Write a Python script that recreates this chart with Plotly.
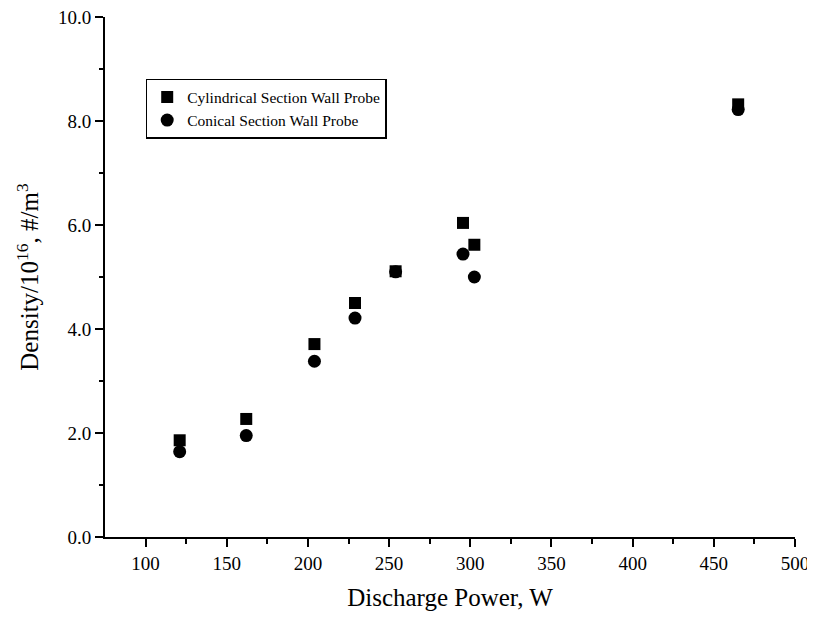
import plotly.graph_objects as go

# Data
power_cyl = [121, 162, 204, 229, 254, 295.5, 302.5, 465]
dens_cyl = [1.86, 2.27, 3.71, 4.50, 5.11, 6.04, 5.62, 8.32]
power_con = [121, 162, 204, 229, 254, 295.5, 302.5, 465]
dens_con = [1.64, 1.95, 3.38, 4.21, 5.10, 5.44, 5.00, 8.22]

x_ticks = [100, 150, 200, 250, 300, 350, 400, 450, 500]
y_ticks = [0, 2, 4, 6, 8, 10]

serif = "Liberation Serif, Times New Roman, serif"

fig = go.Figure()
fig.add_trace(go.Scatter(
    x=power_cyl, y=dens_cyl, mode="markers", name="Cylindrical Section Wall Probe",
    marker=dict(symbol="square", size=12, color="black")))
fig.add_trace(go.Scatter(
    x=power_con, y=dens_con, mode="markers", name="Conical Section Wall Probe",
    marker=dict(symbol="circle", size=13, color="black")))

fig.update_layout(
    width=807, height=614,
    margin=dict(l=97, r=20, t=9, b=85, autoexpand=False),
    paper_bgcolor="white", plot_bgcolor="white",
    font=dict(family=serif, color="black", size=15),
    showlegend=True,
    legend=dict(
        x=0.059, y=0.881, xanchor="left", yanchor="top",
        bordercolor="black", borderwidth=1.5, bgcolor="white",
        font=dict(family=serif, size=15.5, color="black"),
        itemwidth=30, tracegroupgap=0,
    ),
    xaxis=dict(
        range=[75, 500], tickvals=x_ticks, ticktext=[str(v) for v in x_ticks],
        automargin=False, ticklabeloverflow="allow",
        showgrid=False, zeroline=False, showline=True, linecolor="black", linewidth=2,
        ticks="outside", ticklen=8, tickwidth=2, tickcolor="black",
        minor=dict(tickvals=[125, 175, 225, 275, 325, 375, 425, 475], ticks="outside",
                   ticklen=5, tickwidth=2, tickcolor="black"),
        tickfont=dict(family=serif, size=19),
        title=dict(text="Discharge Power, W", font=dict(family=serif, size=25), standoff=16),
    ),
    yaxis=dict(
        range=[0, 10], tickvals=y_ticks, ticktext=["%.1f" % v for v in y_ticks],
        automargin=False, ticklabeloverflow="allow",
        showgrid=False, zeroline=False, showline=True, linecolor="black", linewidth=2,
        ticks="outside", ticklen=8, tickwidth=2, tickcolor="black",
        minor=dict(tickvals=[1, 3, 5, 7, 9], ticks="outside",
                   ticklen=4, tickwidth=2, tickcolor="black"),
        tickfont=dict(family=serif, size=19),
        title=dict(text="Density/10<sup>16</sup>, #/m<sup>3</sup>", font=dict(family=serif, size=25), standoff=12),
    ),
)

fig.write_html("out.html")
